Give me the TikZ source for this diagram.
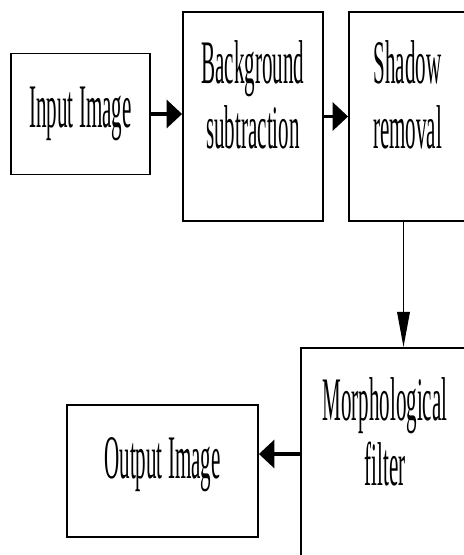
\documentclass[tikz,border=0pt]{standalone}
\usepackage{fontspec}
\newfontfamily\cajaFuente[FakeStretch=0.34]{Liberation Serif}
\usepackage{tikz}
\usetikzlibrary{arrows.meta}

\begin{document}
\begin{tikzpicture}[x=0.025cm, y=-0.025cm,
    caja/.style={draw, line width=1.3pt, align=center, inner sep=0pt,
        font=\cajaFuente\fontsize{44}{46}\selectfont},
    dosLineas/.style={text height=75pt, text depth=30pt},
    flechaGruesa/.style={line width=2.2pt, -{Triangle[length=11pt, width=20pt]}},
    flechaFina/.style={line width=0.9pt, -{Triangle[length=25pt, width=9pt]}}]
    % Marco
    \useasboundingbox (0,0) rectangle (464,555);
    \clip (0,0) rectangle (464,555);

    % Cajas
    \node[caja, minimum width=3.475cm, minimum height=3.025cm] (entrada) at (80.5,114) {Input Image};
    \node[caja, dosLineas, minimum width=3.5cm, minimum height=5.225cm] (fondo) at (253,116.5) {Background\\subtraction};
    \node[caja, dosLineas, minimum width=2.925cm, minimum height=5.225cm] (sombra) at (407.5,116.5) {Shadow\\removal};
    \node[caja, dosLineas, minimum width=4.2cm, minimum height=5.3cm] (morfo) at (385,454) {Morphological\\filter};
    \node[caja, text depth=19pt, minimum width=4.775cm, minimum height=3.3cm] (salida) at (162.5,471) {Output Image};

    % Flechas
    \draw[flechaGruesa] (entrada.east) -- (entrada.east -| fondo.west);
    \draw[flechaGruesa] (fondo.east) -- (sombra.west);
    \draw[flechaFina] ([xshift=-0.1cm]sombra.south) -- ([xshift=-0.1cm]sombra.south |- morfo.north);
    \draw[flechaGruesa] (morfo.west) -- (morfo.west -| salida.east);
\end{tikzpicture}
\end{document}
